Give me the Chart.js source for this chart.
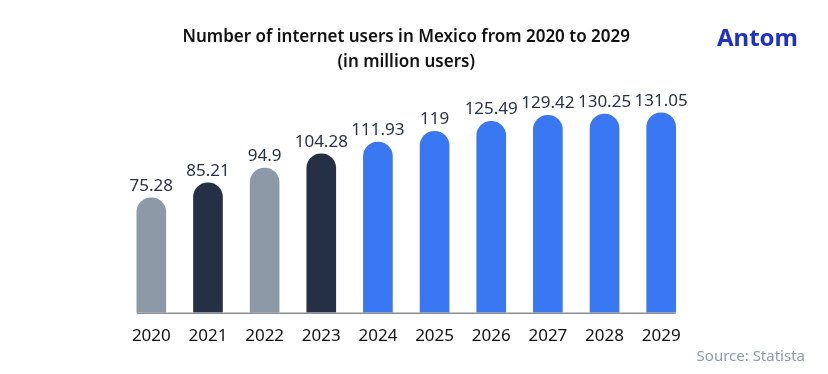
<!DOCTYPE html>
<html>
<head>
<meta charset="utf-8">
<script src="https://cdn.jsdelivr.net/npm/chart.js@4.4.1/dist/chart.umd.min.js"></script>
<style>
  html, body { margin: 0; padding: 0; background: #ffffff; }
  #wrap { position: relative; width: 828px; height: 374px; overflow: hidden; }
  #c { position: absolute; left: 0; top: 0; }
  #logo { position: absolute; left: 717px; top: 25px; font-family: "Noto Sans", sans-serif; font-weight: 700; font-size: 24px; color: #1e33c6; letter-spacing: 0px; line-height: 1; }
  #source { position: absolute; right: 23px; top: 346px; font-family: "Noto Sans", sans-serif; font-size: 15px; color: #8d9bab; line-height: 1.2; }
</style>
</head>
<body>
<div id="wrap">
  <canvas id="c" width="828" height="374"></canvas>
  <div id="logo">Antom</div>
  <div id="source">Source: Statista</div>
</div>
<script>
const years = ["2020", "2021", "2022", "2023", "2024", "2025", "2026", "2027", "2028", "2029"];
const users = [75.28, 85.21, 94.9, 104.28, 111.93, 119, 125.49, 129.42, 130.25, 131.05];
const valueLabels = ["75.28", "85.21", "94.9", "104.28", "111.93", "119", "125.49", "129.42", "130.25", "131.05"];
const titleLines = ["Number of internet users in Mexico from 2020 to 2029", "(in million users)"];

const barColors = ["#8c99a6", "#253044", "#8c99a6", "#253044", "#3a77f3", "#3a77f3", "#3a77f3", "#3a77f3", "#3a77f3", "#3a77f3"];

const valueLabelPlugin = {
  id: 'valueLabels',
  afterDatasetsDraw(chart) {
    const ctx = chart.ctx;
    const meta = chart.getDatasetMeta(0);
    ctx.save();
    ctx.font = '17px "Noto Sans", sans-serif';
    ctx.fillStyle = '#2a3345';
    ctx.textAlign = 'center';
    ctx.textBaseline = 'alphabetic';
    meta.data.forEach((bar, i) => {
      ctx.fillText(valueLabels[i], bar.x, bar.y - 7);
    });
    ctx.restore();
  }
};

const baselinePlugin = {
  id: 'baseline',
  afterDatasetsDraw(chart) {
    const ctx = chart.ctx;
    const meta = chart.getDatasetMeta(0);
    const first = meta.data[0], last = meta.data[meta.data.length - 1];
    const y0 = chart.scales.y.getPixelForValue(0);
    ctx.save();
    ctx.strokeStyle = '#8a8d92';
    ctx.lineWidth = 1.5;
    ctx.beginPath();
    ctx.moveTo(first.x - first.width / 2, y0 + 0.75);
    ctx.lineTo(last.x + last.width / 2, y0 + 0.75);
    ctx.stroke();
    ctx.restore();
  }
};

new Chart(document.getElementById('c'), {
  type: 'bar',
  data: {
    labels: years,
    datasets: [{
      data: users,
      backgroundColor: barColors,
      borderWidth: 0,
      borderSkipped: 'bottom',
      borderRadius: { topLeft: 15, topRight: 15, bottomLeft: 0, bottomRight: 0 },
      barThickness: 29
    }]
  },
  options: {
    responsive: false,
    animation: false,
    devicePixelRatio: 1,
    layout: { padding: { left: 123, right: 138.5, top: 0, bottom: 15 } },
    plugins: {
      legend: { display: false },
      tooltip: { enabled: false },
      title: {
        display: true,
        text: titleLines,
        color: '#111111',
        font: { family: '"Noto Sans", sans-serif', size: 17, weight: '600', lineHeight: 1.45 },
        padding: { top: 25, bottom: 25 }
      }
    },
    scales: {
      x: {
        grid: { display: false, drawTicks: false },
        border: { display: false },
        ticks: { color: '#111111', font: { family: '"Noto Sans", sans-serif', size: 17 }, padding: 13, maxRotation: 0 }
      },
      y: {
        display: false,
        min: 0,
        max: 140
      }
    }
  },
  plugins: [valueLabelPlugin, baselinePlugin]
});
</script>
</body>
</html>
